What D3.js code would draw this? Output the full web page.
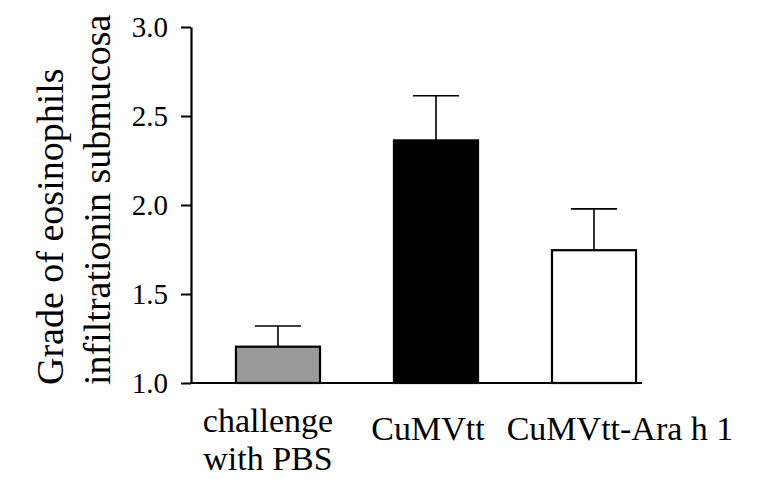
<!DOCTYPE html>
<html>
<head>
<meta charset="utf-8">
<script src="https://cdn.jsdelivr.net/npm/d3@7"></script>
<style>
  html, body { margin: 0; padding: 0; background: #fff; }
  svg { display: block; }
</style>
</head>
<body>
<svg id="chart" width="773" height="479" font-family="Liberation Serif"></svg>
<script>
// ---- data ----
const categories = ["challenge with PBS", "CuMVtt", "CuMVtt-Ara h 1"];
const categoryLines = [["challenge", "with PBS"], ["CuMVtt"], ["CuMVtt-Ara h 1"]];
const means = [1.204, 2.363, 1.746];
const errors = [0.116, 0.251, 0.232];
const fills = ["#999999", "#000000", "#ffffff"];
const yTicks = [1.0, 1.5, 2.0, 2.5, 3.0];
const yTitleLines = ["Grade of eosinophils", "infiltrationin submucosa"];

// ---- layout ----
const svg = d3.select("#chart");
const axisX = 191, axisRight = 642;
const yTop = 27, yBottom = 383;

const y = d3.scaleLinear().domain([1.0, 3.0]).range([yBottom, yTop]);
const x = d3.scaleBand().domain(categories)
  .range([193.3, 678.7]).paddingInner(0.468).paddingOuter(0.27);

const labelDx = [-10, -8, 26];

// y axis
const yAxis = d3.axisLeft(y).tickValues(yTicks).tickFormat(d3.format(".1f"))
  .tickSize(10).tickSizeOuter(0).tickPadding(13);
const gy = svg.append("g").attr("transform", `translate(${axisX},0)`).call(yAxis);
gy.attr("font-family", null).attr("font-size", 29);
gy.select(".domain").attr("stroke", "#000").attr("stroke-width", 2.2);
gy.selectAll(".tick line").attr("stroke", "#000").attr("stroke-width", 2);
gy.selectAll(".tick text").attr("fill", "#000").attr("font-family", "Liberation Serif");

// x axis line
svg.append("line")
  .attr("x1", axisX - 1).attr("x2", axisRight)
  .attr("y1", y(1.0)).attr("y2", y(1.0))
  .attr("stroke", "#000").attr("stroke-width", 2.2);

// error bars
const eg = svg.append("g");
categories.forEach((c, i) => {
  const cx = x(c) + x.bandwidth() / 2;
  const capW = x.bandwidth() * 0.55;
  eg.append("line").attr("x1", cx).attr("x2", cx)
    .attr("y1", y(means[i])).attr("y2", y(means[i] + errors[i]))
    .attr("stroke", "#000").attr("stroke-width", 1.6);
  eg.append("line").attr("x1", cx - capW / 2).attr("x2", cx + capW / 2)
    .attr("y1", y(means[i] + errors[i])).attr("y2", y(means[i] + errors[i]))
    .attr("stroke", "#000").attr("stroke-width", 1.6);
});

// bars
svg.append("g").selectAll("rect").data(categories).join("rect")
  .attr("x", d => x(d))
  .attr("width", x.bandwidth())
  .attr("y", (d, i) => y(means[i]))
  .attr("height", (d, i) => y(1.0) - y(means[i]))
  .attr("fill", (d, i) => fills[i])
  .attr("stroke", "#000").attr("stroke-width", 2.2);

// x labels
categories.forEach((c, i) => {
  const cx = x(c) + x.bandwidth() / 2 + labelDx[i];
  const lines = categoryLines[i];
  const base = lines.length > 1 ? 432 : 440;
  lines.forEach((l, j) => {
    svg.append("text").attr("text-anchor", "middle")
      .attr("font-family", "Liberation Serif").attr("font-size", 34).attr("fill", "#000")
      .attr("x", cx).attr("y", base + j * 38).text(l);
  });
});

// y title
yTitleLines.forEach((l, j) => {
  svg.append("text")
    .attr("transform", `translate(${63 + j * 47},385) rotate(-90)`)
    .attr("text-anchor", "start")
    .attr("font-family", "Liberation Serif").attr("font-size", 38).attr("fill", "#000")
    .text(l);
});
</script>
</body>
</html>
